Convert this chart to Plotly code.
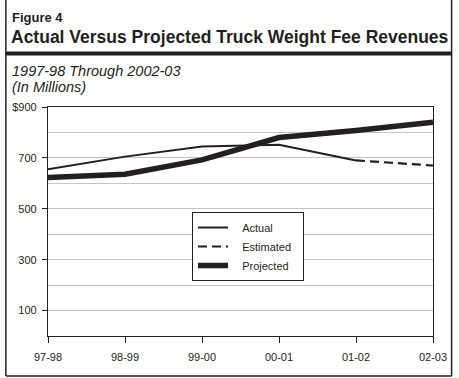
import plotly.graph_objects as go

# ---- data ----
years = ["97-98", "98-99", "99-00", "00-01", "01-02", "02-03"]
actual_years = ["97-98", "98-99", "99-00", "00-01", "01-02"]
actual = [655, 705, 745, 752, 690]
estimated_years = ["01-02", "02-03"]
estimated = [690, 670]
projected = [623, 636, 692, 780, 808, 840]
ytick_vals = [100, 300, 500, 700, 900]
ytick_text = ["100", "300", "500", "700", "$900"]
series_names = ["Actual", "Estimated", "Projected"]

W, H = 459, 378
ML, MR, MT, MB = 45, 21, 107, 42
PW, PH = W - ML - MR, H - MT - MB


def px(x):
    return (x - ML) / PW


def py(y):
    return (H - MB - y) / PH


INK = "#231f20"
FONT = "Liberation Sans, Arial, sans-serif"
PAD = "\u00a0\u00a0\u00a0"
TAIL = "\u00a0\u00a0"

fig = go.Figure()
fig.add_trace(go.Scatter(x=actual_years, y=actual, mode="lines", name=PAD + series_names[0],
                         line=dict(color=INK, width=2)))
fig.add_trace(go.Scatter(x=estimated_years, y=estimated, mode="lines", name=PAD + series_names[1] + TAIL,
                         line=dict(color=INK, width=2.2, dash="9px,5px")))
fig.add_trace(go.Scatter(x=years, y=projected, mode="lines", name=PAD + series_names[2],
                         line=dict(color=INK, width=5.5)))

fig.update_layout(
    width=W, height=H,
    margin=dict(l=ML, r=MR, t=MT, b=MB),
    paper_bgcolor="white", plot_bgcolor="white",
    font=dict(family=FONT, size=11, color=INK),
    showlegend=True,
    legend=dict(x=px(192), y=py(212), xanchor="left", yanchor="top",
                bordercolor=INK, borderwidth=1, bgcolor="white",
                font=dict(size=11, family=FONT, color=INK),
                tracegroupgap=0, itemwidth=30),
    xaxis=dict(type="category", categoryorder="array", categoryarray=years,
               range=[0, 5], showgrid=False, showline=True, linecolor=INK, linewidth=1.2,
               ticks="outside", ticklen=6, tickcolor=INK, tickwidth=1,
               tickfont=dict(size=11, family=FONT, color=INK),
               ticklabelstandoff=5, mirror=True, zeroline=False),
    yaxis=dict(range=[0, 900], tickmode="array", tickvals=ytick_vals, ticktext=ytick_text,
               showgrid=False, showline=True, linecolor=INK, linewidth=1.2,
               ticks="outside", ticklen=5, tickcolor=INK, tickwidth=1,
               tickfont=dict(size=11, family=FONT, color=INK),
               ticklabelstandoff=3, mirror=True, zeroline=False,
               minor=dict(tickmode="linear", tick0=0, dtick=100, showgrid=True,
                          gridcolor="#c4c4c4", gridwidth=1, ticks="")),
)

shapes = [
    # outer frame (left, right, bottom)
    dict(type="line", xref="paper", yref="paper", x0=px(2), x1=px(2), y0=py(0), y1=py(376),
         line=dict(color=INK, width=1.5)),
    dict(type="line", xref="paper", yref="paper", x0=px(457), x1=px(457), y0=py(0), y1=py(376),
         line=dict(color=INK, width=1.5)),
    dict(type="line", xref="paper", yref="paper", x0=px(2), x1=px(457), y0=py(376), y1=py(376),
         line=dict(color=INK, width=1.5)),
    # title rule
    dict(type="line", xref="paper", yref="paper", x0=px(2), x1=px(457), y0=py(53.5), y1=py(53.5),
         line=dict(color=INK, width=4)),
]
fig.update_layout(shapes=shapes)

annotations = [
    dict(text="<b>Figure 4</b>", x=px(6), y=py(17), xanchor="left", yanchor="middle",
         font=dict(size=13, family=FONT, color=INK)),
    dict(text="<b>Actual Versus Projected Truck Weight Fee Revenues</b>", x=px(5), y=py(37),
         xanchor="left", yanchor="middle", font=dict(size=17.5, family=FONT, color=INK)),
    dict(text="<i>1997-98 Through 2002-03</i>", x=px(6), y=py(71), xanchor="left", yanchor="middle",
         font=dict(size=14.5, family=FONT, color=INK)),
    dict(text="<i>(In Millions)</i>", x=px(6), y=py(87), xanchor="left", yanchor="middle",
         font=dict(size=14.5, family=FONT, color=INK)),
]
for a in annotations:
    a.update(xref="paper", yref="paper", showarrow=False)
fig.update_layout(annotations=annotations)

fig.write_html("out.html", config={"displayModeBar": False},
               post_script="document.body.style.margin='0';document.body.style.overflow='hidden';")
